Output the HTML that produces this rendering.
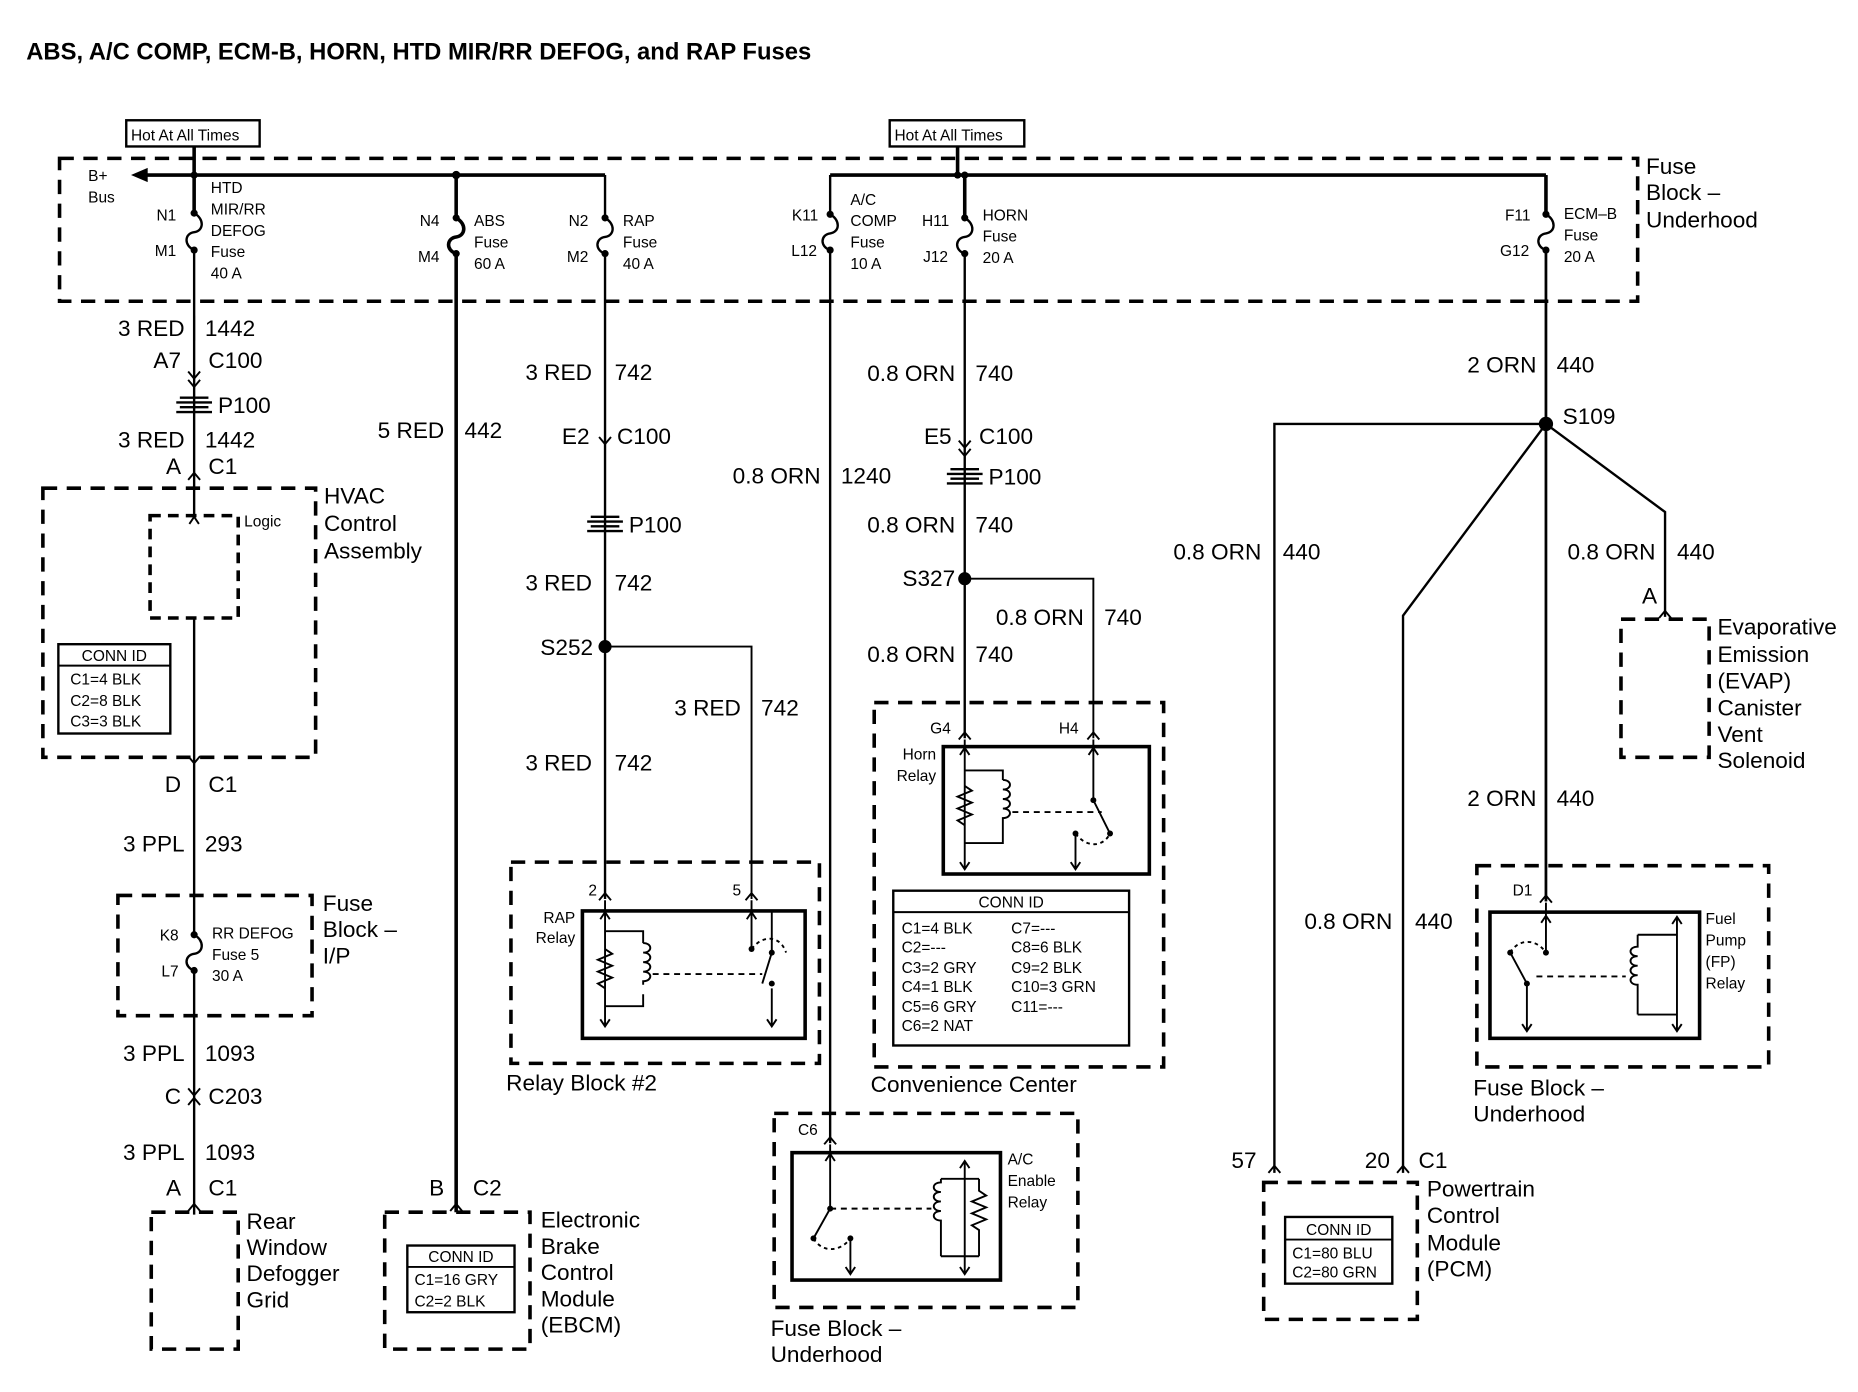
<!DOCTYPE html>
<html><head><meta charset="utf-8"><style>
html,body{margin:0;padding:0;background:#fff}
svg{display:block}
text{font-family:"Liberation Sans",sans-serif;fill:#000}
.b{font-size:19px}.s{font-size:13px}.e{text-anchor:end}.m{text-anchor:middle}
.w{stroke:#000;stroke-width:1.6;fill:none}
.t{stroke:#000;stroke-width:3;fill:none}
.d{stroke:#000;stroke-width:3;fill:none;stroke-dasharray:12,8}
.r{stroke:#000;stroke-width:3;fill:none}
.tb{stroke:#000;stroke-width:2;fill:#fff}
</style></head><body>
<svg width="1858" height="1392" viewBox="0 0 1560 1169" preserveAspectRatio="none" xmlns="http://www.w3.org/2000/svg">
<text x="22" y="50" style="font-size:20px;font-weight:bold">ABS, A/C COMP, ECM-B, HORN, HTD MIR/RR DEFOG, and RAP Fuses</text>

<rect x="106" y="101" width="112" height="22" class="tb"/><text x="110" y="118" class="s">Hot At All Times</text>
<rect x="747" y="101" width="113" height="22" class="tb"/><text x="751" y="118" class="s">Hot At All Times</text>
<line x1="163" y1="123" x2="163" y2="147" class="t"/>
<line x1="804" y1="123" x2="804" y2="147" class="t"/>

<rect x="50" y="133" width="1325" height="120" class="d"/>
<text x="1382" y="146" class="b">Fuse</text><text x="1382" y="168" class="b">Block –</text><text x="1382" y="191" class="b">Underhood</text>
<text x="74" y="152" class="s">B+</text><text x="74" y="170" class="s">Bus</text>
<path d="M110 147 L124 141 L124 153 Z"/>
<line x1="118" y1="147" x2="508" y2="147" class="t"/>
<line x1="697" y1="147" x2="1298" y2="147" class="t"/>
<circle cx="163" cy="147" r="3"/><circle cx="383" cy="147" r="3.5"/><circle cx="804" cy="147" r="3"/><circle cx="810" cy="147" r="3"/>

<g class="w" style="stroke-width:2">
<path d="M163 147V179 C172 184 171 194 163 195 C155 196 154 206 163 210 V434"/>
<path d="M163 519 V785 M163 815 V1020"/>
<path d="M383 147V183 C392 188 391 198 383 199 C375 200 374 210 383 213" style="stroke-width:3"/>
<path d="M508 147V183 C517 188 516 198 508 199 C500 200 499 210 508 213 V755"/>
<path d="M697 147V180 C706 185 705 195 697 196 C689 197 688 207 697 210 V960"/>
<path d="M810 147V183 C819 188 818 198 810 199 C802 200 801 210 810 213 V620"/>
<path d="M1298 147V180 C1307 185 1306 195 1298 196 C1290 197 1289 207 1298 210 V757"/>
</g>
<line x1="383" y1="213" x2="383" y2="1018" class="t"/>
<line x1="163" y1="147" x2="163" y2="179" class="t"/>
<line x1="810" y1="147" x2="810" y2="183" class="t"/>
<line x1="1298" y1="147" x2="1298" y2="180" class="t"/>
<line x1="1298" y1="210" x2="1298" y2="757" class="t" style="stroke-width:2.2"/>
<g>
<circle cx="163" cy="179" r="3"/><circle cx="163" cy="210" r="3"/>
<circle cx="383" cy="183" r="3"/><circle cx="383" cy="213" r="3"/>
<circle cx="508" cy="183" r="3"/><circle cx="508" cy="213" r="3"/>
<circle cx="697" cy="180" r="3"/><circle cx="697" cy="210" r="3"/>
<circle cx="810" cy="183" r="3"/><circle cx="810" cy="213" r="3"/>
<circle cx="1298" cy="180" r="3"/><circle cx="1298" cy="210" r="3"/>
</g>
<text x="148" y="185" class="s e">N1</text><text x="148" y="215" class="s e">M1</text>
<text x="177" y="162" class="s">HTD</text><text x="177" y="180" class="s">MIR/RR</text><text x="177" y="198" class="s">DEFOG</text><text x="177" y="216" class="s">Fuse</text><text x="177" y="234" class="s">40 A</text>
<text x="369" y="190" class="s e">N4</text><text x="369" y="220" class="s e">M4</text>
<text x="398" y="190" class="s">ABS</text><text x="398" y="208" class="s">Fuse</text><text x="398" y="226" class="s">60 A</text>
<text x="494" y="190" class="s e">N2</text><text x="494" y="220" class="s e">M2</text>
<text x="523" y="190" class="s">RAP</text><text x="523" y="208" class="s">Fuse</text><text x="523" y="226" class="s">40 A</text>
<text x="687" y="185" class="s e">K11</text><text x="686" y="215" class="s e">L12</text>
<text x="714" y="172" class="s">A/C</text><text x="714" y="190" class="s">COMP</text><text x="714" y="208" class="s">Fuse</text><text x="714" y="226" class="s">10 A</text>
<text x="797" y="190" class="s e">H11</text><text x="796" y="220" class="s e">J12</text>
<text x="825" y="185" class="s">HORN</text><text x="825" y="203" class="s">Fuse</text><text x="825" y="221" class="s">20 A</text>
<text x="1285" y="185" class="s e">F11</text><text x="1284" y="215" class="s e">G12</text>
<text x="1313" y="184" class="s">ECM–B</text><text x="1313" y="202" class="s">Fuse</text><text x="1313" y="220" class="s">20 A</text>

<g class="w" style="stroke-width:1.6">
<path d="M158 312 L163 318 L168 312 M158 319 L163 325 L168 319"/>
<path d="M158 403 L163 397 L168 403"/>
<path d="M158 635 L163 641 L168 635"/>
<path d="M158 914 L163 920 L168 914 M158 928 L163 922 L168 928"/>
<path d="M158 1017 L163 1011 L168 1017"/>
<path d="M378 1017 L383 1011 L388 1017"/>
<path d="M503 367 L508 373 L513 367"/>
<path d="M805 370 L810 376 L815 370 M805 377 L810 383 L815 377"/>
<path d="M503 756 L508 750 L513 756"/><path d="M626 756 L631 750 L636 756"/>
<path d="M805 621 L810 615 L815 621"/><path d="M913 621 L918 615 L923 621"/>
<path d="M692 961 L697 955 L702 961"/>
<path d="M1293 758 L1298 752 L1303 758"/>
<path d="M1393 519 L1398 513 L1403 519"/>
<path d="M1065 985 L1070 979 L1075 985"/><path d="M1173 985 L1178 979 L1183 985"/>
</g>
<g class="w" style="stroke-width:2">
<path d="M148 338 H178 M151 334 H175 M151 342 H175 M148 346 H178"/>
<path d="M493 438 H523 M496 434 H520 M496 442 H520 M493 446 H523"/>
<path d="M795 398 H825 M798 394 H822 M798 402 H822 M795 406 H825"/>
</g>

<text x="155" y="282" class="b e">3 RED</text><line x1="163" y1="265" x2="163" y2="286" class="w"/><text x="172" y="282" class="b">1442</text>
<text x="152" y="309" class="b e">A7</text><text x="175" y="309" class="b">C100</text>
<text x="183" y="347" class="b">P100</text>
<text x="155" y="376" class="b e">3 RED</text><text x="172" y="376" class="b">1442</text>
<text x="152" y="398" class="b e">A</text><text x="175" y="398" class="b">C1</text>
<rect x="36" y="410" width="229" height="226" class="d"/>
<text x="272" y="423" class="b">HVAC</text><text x="272" y="446" class="b">Control</text><text x="272" y="469" class="b">Assembly</text>
<rect x="126" y="433" width="74" height="86" class="d" style="stroke-dasharray:9,6"/>
<path d="M159 440 L163 434 L167 440" class="w"/>
<text x="205" y="442" class="s">Logic</text>
<rect x="49" y="541" width="94" height="75" class="tb"/><line x1="49" y1="559" x2="143" y2="559" class="w"/>
<text x="96" y="555" class="s m">CONN ID</text><text x="59" y="575" class="s">C1=4 BLK</text><text x="59" y="593" class="s">C2=8 BLK</text><text x="59" y="610" class="s">C3=3 BLK</text>
<text x="152" y="665" class="b e">D</text><text x="175" y="665" class="b">C1</text>
<text x="155" y="715" class="b e">3 PPL</text><text x="172" y="715" class="b">293</text>
<rect x="99" y="752" width="163" height="101" class="d"/>
<text x="271" y="765" class="b">Fuse</text><text x="271" y="787" class="b">Block –</text><text x="271" y="809" class="b">I/P</text>
<path d="M163 785 C172 790 171 800 163 801 C155 802 154 812 163 815" class="w" style="stroke-width:2"/>
<circle cx="163" cy="785" r="3"/><circle cx="163" cy="815" r="3"/>
<text x="150" y="790" class="s e">K8</text><text x="150" y="820" class="s e">L7</text>
<text x="178" y="788" class="s">RR DEFOG</text><text x="178" y="806" class="s">Fuse 5</text><text x="178" y="824" class="s">30 A</text>
<text x="155" y="891" class="b e">3 PPL</text><text x="172" y="891" class="b">1093</text>
<text x="152" y="927" class="b e">C</text><text x="175" y="927" class="b">C203</text>
<text x="155" y="974" class="b e">3 PPL</text><text x="172" y="974" class="b">1093</text>
<text x="152" y="1004" class="b e">A</text><text x="175" y="1004" class="b">C1</text>
<rect x="127" y="1018" width="73" height="115" class="d"/>
<text x="207" y="1032" class="b">Rear</text><text x="207" y="1054" class="b">Window</text><text x="207" y="1076" class="b">Defogger</text><text x="207" y="1098" class="b">Grid</text>

<text x="373" y="368" class="b e">5 RED</text><text x="390" y="368" class="b">442</text>
<text x="373" y="1004" class="b e">B</text><text x="397" y="1004" class="b">C2</text>
<rect x="323" y="1018" width="122" height="115" class="d"/>
<rect x="342" y="1046" width="90" height="56" class="tb"/><line x1="342" y1="1064" x2="432" y2="1064" class="w"/>
<text x="387" y="1060" class="s m">CONN ID</text><text x="348" y="1079" class="s">C1=16 GRY</text><text x="348" y="1097" class="s">C2=2 BLK</text>
<text x="454" y="1031" class="b">Electronic</text><text x="454" y="1053" class="b">Brake</text><text x="454" y="1075" class="b">Control</text><text x="454" y="1097" class="b">Module</text><text x="454" y="1119" class="b">(EBCM)</text>

<text x="497" y="319" class="b e">3 RED</text><text x="516" y="319" class="b">742</text>
<text x="495" y="373" class="b e">E2</text><text x="518" y="373" class="b">C100</text>
<text x="528" y="447" class="b">P100</text>
<text x="497" y="496" class="b e">3 RED</text><text x="516" y="496" class="b">742</text>
<circle cx="508" cy="543" r="5.5"/><text x="498" y="550" class="b e">S252</text>
<path d="M508 543 H631 V755" class="w"/>
<text x="622" y="601" class="b e">3 RED</text><text x="639" y="601" class="b">742</text>
<text x="497" y="647" class="b e">3 RED</text><text x="516" y="647" class="b">742</text>
<rect x="429" y="724" width="259" height="169" class="d"/>
<text x="425" y="916" class="b">Relay Block #2</text>
<text x="494" y="752" class="s">2</text><text x="615" y="752" class="s">5</text>
<rect x="489" y="765" width="187" height="107" class="r"/>
<text x="483" y="775" class="s e">RAP</text><text x="483" y="792" class="s e">Relay</text>
<g class="w">
<path d="M508 756 V862 M504 772 L508 766 L512 772 M504 856 L508 862 L512 856"/>
<path d="M508 782 H540 V792 M508 845 H540 V835"/>
<path d="M508 797 l6 4 -12 5 12 5 -12 5 12 5 -12 5 6 4"/>
<path d="M540 792 c8 0 8 8 0 8 c8 0 8 8 0 8 c8 0 8 8 0 8 c8 0 8 8 0 8 v3"/>
<path d="M548 818 H640" style="stroke-dasharray:5,4"/>
<path d="M631 756 V797 M627 772 L631 766 L635 772 M648 766 V800 L640 826 M648 830 V862 M644 856 L648 862 L652 856"/>
<path d="M631 797 C640 785 655 785 660 800" style="stroke-dasharray:3,3"/>
</g>
<circle cx="631" cy="797" r="2.5"/><circle cx="648" cy="800" r="2.5"/><circle cx="648" cy="826" r="2.5"/>

<text x="689" y="406" class="b e">0.8 ORN</text><text x="706" y="406" class="b">1240</text>
<rect x="650" y="935" width="255" height="163" class="d"/>
<text x="670" y="953" class="s">C6</text>
<rect x="665" y="968" width="175" height="107" class="r"/>
<text x="846" y="978" class="s">A/C</text><text x="846" y="996" class="s">Enable</text><text x="846" y="1014" class="s">Relay</text>
<text x="647" y="1122" class="b">Fuse Block –</text><text x="647" y="1144" class="b">Underhood</text>
<g class="w">
<path d="M697 961 V1015 L683 1040 M693 975 L697 969 L701 975"/>
<path d="M714 1040 V1070 M710 1064 L714 1070 L718 1064"/>
<path d="M697 1015 H782" style="stroke-dasharray:5,4"/>
<path d="M683 1040 C690 1052 705 1052 714 1040" style="stroke-dasharray:3,3"/>
<path d="M810 975 V1070 M806 981 L810 975 L814 981 M806 1064 L810 1070 L814 1064"/>
<path d="M790 990 H822 M790 1055 H822"/>
<path d="M790 990 v3 c-8 0 -8 8 0 8 c-8 0 -8 8 0 8 c-8 0 -8 8 0 8 c-8 0 -8 8 0 8 V1055"/>
<path d="M822 990 v10 l6 4 -12 5 12 5 -12 5 12 5 -12 5 6 4 V1055"/>
</g>
<circle cx="697" cy="1015" r="2.5"/><circle cx="683" cy="1040" r="2.5"/><circle cx="714" cy="1040" r="2.5"/>

<text x="802" y="320" class="b e">0.8 ORN</text><text x="819" y="320" class="b">740</text>
<text x="799" y="373" class="b e">E5</text><text x="822" y="373" class="b">C100</text>
<text x="830" y="407" class="b">P100</text>
<text x="802" y="447" class="b e">0.8 ORN</text><text x="819" y="447" class="b">740</text>
<circle cx="810" cy="486" r="5.5"/><text x="802" y="492" class="b e">S327</text>
<path d="M810 486 H918 V620" class="w"/>
<text x="910" y="525" class="b e">0.8 ORN</text><text x="927" y="525" class="b">740</text>
<text x="802" y="556" class="b e">0.8 ORN</text><text x="819" y="556" class="b">740</text>
<rect x="734" y="590" width="243" height="306" class="d"/>
<text x="731" y="917" class="b">Convenience Center</text>
<text x="781" y="616" class="s">G4</text><text x="889" y="616" class="s">H4</text>
<rect x="792" y="627" width="173" height="107" class="r"/>
<text x="786" y="638" class="s e">Horn</text><text x="786" y="656" class="s e">Relay</text>
<g class="w">
<path d="M810 621 V730 M806 634 L810 628 L814 634 M806 724 L810 730 L814 724"/>
<path d="M810 647 H842 V655 M810 708 H842 V700"/>
<path d="M810 660 l6 4 -12 5 12 5 -12 5 12 5 -12 5 6 4"/>
<path d="M842 655 c8 0 8 8 0 8 c8 0 8 8 0 8 c8 0 8 8 0 8 c8 0 8 8 0 8 v13"/>
<path d="M850 682 H925" style="stroke-dasharray:5,4"/>
<path d="M918 621 V672 L932 700 M914 634 L918 628 L922 634"/>
<path d="M903 700 V730 M899 724 L903 730 L907 724"/>
<path d="M903 700 C912 712 926 712 932 700" style="stroke-dasharray:3,3"/>
</g>
<circle cx="918" cy="672" r="2.5"/><circle cx="932" cy="700" r="2.5"/><circle cx="903" cy="700" r="2.5"/>
<rect x="750" y="748" width="198" height="130" class="tb"/><line x1="750" y1="766" x2="948" y2="766" class="w"/>
<text x="849" y="762" class="s m">CONN ID</text>
<text x="757" y="784" class="s">C1=4 BLK</text><text x="757" y="800" class="s">C2=---</text><text x="757" y="817" class="s">C3=2 GRY</text><text x="757" y="833" class="s">C4=1 BLK</text><text x="757" y="850" class="s">C5=6 GRY</text><text x="757" y="866" class="s">C6=2 NAT</text>
<text x="849" y="784" class="s">C7=---</text><text x="849" y="800" class="s">C8=6 BLK</text><text x="849" y="817" class="s">C9=2 BLK</text><text x="849" y="833" class="s">C10=3 GRN</text><text x="849" y="850" class="s">C11=---</text>

<text x="1290" y="313" class="b e">2 ORN</text><text x="1307" y="313" class="b">440</text>
<circle cx="1298" cy="356" r="6"/><text x="1312" y="356" class="b">S109</text>
<g class="w" style="stroke-width:2">
<path d="M1298 356 H1070 V985"/>
<path d="M1298 356 L1178 517 V985"/>
<path d="M1298 356 L1398 430 V518"/>
</g>
<text x="1059" y="470" class="b e">0.8 ORN</text><text x="1077" y="470" class="b">440</text>
<text x="1390" y="470" class="b e">0.8 ORN</text><text x="1408" y="470" class="b">440</text>
<text x="1385" y="507" class="b m">A</text>
<rect x="1361" y="520" width="74" height="116" class="d"/>
<text x="1442" y="533" class="b">Evaporative</text><text x="1442" y="556" class="b">Emission</text><text x="1442" y="578" class="b">(EVAP)</text><text x="1442" y="601" class="b">Canister</text><text x="1442" y="623" class="b">Vent</text><text x="1442" y="645" class="b">Solenoid</text>
<text x="1290" y="677" class="b e">2 ORN</text><text x="1307" y="677" class="b">440</text>
<text x="1169" y="780" class="b e">0.8 ORN</text><text x="1188" y="780" class="b">440</text>
<rect x="1240" y="727" width="245" height="169" class="d"/>
<text x="1270" y="752" class="s">D1</text>
<rect x="1251" y="766" width="176" height="106" class="r"/>
<text x="1432" y="776" class="s">Fuel</text><text x="1432" y="794" class="s">Pump</text><text x="1432" y="812" class="s">(FP)</text><text x="1432" y="830" class="s">Relay</text>
<text x="1237" y="920" class="b">Fuse Block –</text><text x="1237" y="942" class="b">Underhood</text>
<g class="w">
<path d="M1298 758 V800 M1294 775 L1298 769 L1302 775"/>
<path d="M1268 800 L1282 826 V866 M1278 860 L1282 866 L1286 860"/>
<path d="M1268 800 C1275 788 1290 788 1298 800" style="stroke-dasharray:3,3"/>
<path d="M1290 820 H1365" style="stroke-dasharray:5,4"/>
<path d="M1408 770 V866 M1404 776 L1408 770 L1412 776 M1404 860 L1408 866 L1412 860"/>
<path d="M1375 785 H1408 M1375 852 H1408"/>
<path d="M1375 785 v10 c-8 0 -8 8 0 8 c-8 0 -8 8 0 8 c-8 0 -8 8 0 8 c-8 0 -8 8 0 8 V852"/>
</g>
<circle cx="1298" cy="800" r="2.5"/><circle cx="1268" cy="800" r="2.5"/><circle cx="1282" cy="826" r="2.5"/>
<text x="1055" y="981" class="b e">57</text><text x="1167" y="981" class="b e">20</text><text x="1191" y="981" class="b">C1</text>
<rect x="1061" y="993" width="129" height="115" class="d"/>
<rect x="1079" y="1022" width="90" height="56" class="tb"/><line x1="1079" y1="1041" x2="1169" y2="1041" class="w"/>
<text x="1124" y="1037" class="s m">CONN ID</text><text x="1085" y="1057" class="s">C1=80 BLU</text><text x="1085" y="1073" class="s">C2=80 GRN</text>
<text x="1198" y="1005" class="b">Powertrain</text><text x="1198" y="1027" class="b">Control</text><text x="1198" y="1050" class="b">Module</text><text x="1198" y="1072" class="b">(PCM)</text>
</svg>
</body></html>
